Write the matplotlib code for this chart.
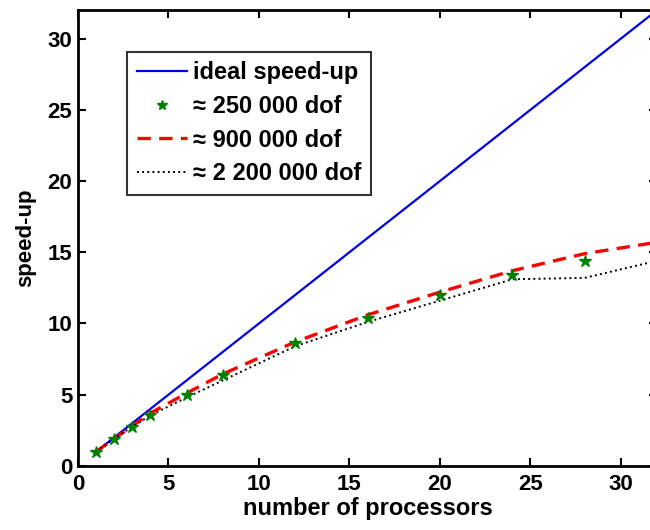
import matplotlib
matplotlib.use("Agg")
import matplotlib.pyplot as plt

plt.rcParams['font.family'] = ['Liberation Sans', 'DejaVu Sans']
plt.rcParams['font.weight'] = 'bold'

# ideal speed-up
procs_ideal = [1, 32]
speed_ideal = [1, 32]

# measured speed-ups
procs_250k = [1, 2, 3, 4, 6, 8, 12, 16, 20, 24, 28]
speed_250k = [1.0, 1.9, 2.75, 3.6, 5.0, 6.4, 8.6, 10.4, 12.0, 13.4, 14.4]

procs_900k = [1, 2, 3, 4, 6, 8, 12, 16, 20, 24, 28, 32]
speed_900k = [1.0, 1.9, 2.8, 3.7, 5.1, 6.45, 8.7, 10.6, 12.2, 13.7, 14.9, 15.7]

procs_2200k = [1, 2, 3, 4, 6, 8, 12, 16, 20, 24, 28, 32]
speed_2200k = [1.0, 1.9, 2.75, 3.55, 4.8, 6.0, 8.4, 10.1, 11.6, 13.1, 13.2, 14.4]

fig = plt.figure(figsize=(6.5, 5.3), dpi=100)
ax = fig.add_axes([0.12, 0.121, 0.891, 0.860])

ax.plot(procs_ideal, speed_ideal, color='#0000e6', lw=1.6, label='ideal speed-up')
ax.plot(procs_250k, speed_250k, ls='none', marker='*', ms=9, color='#008000',
        label='\u2248 250 000 dof', zorder=4)
ax.plot(procs_900k, speed_900k, color='red', ls='--', lw=2.4, dashes=(4, 2.5),
        label='\u2248 900 000 dof')
ax.plot(procs_2200k, speed_2200k, color='black', ls=':', lw=1.4,
        label='\u2248 2 200 000 dof')

ax.set_xlim(0, 32)
ax.set_ylim(0, 32)
ax.set_xticks([0, 5, 10, 15, 20, 25, 30])
ax.set_yticks([0, 5, 10, 15, 20, 25, 30])
ax.tick_params(direction='in', length=6, width=1.5, labelsize=16,
               top=True, right=True)
ax.tick_params(axis='x', pad=6)
ax.tick_params(axis='y', pad=4)
for lab in ax.get_xticklabels() + ax.get_yticklabels():
    lab.set_fontweight('bold')
for s in ax.spines.values():
    s.set_linewidth(2)

ax.set_xlabel('number of processors', fontsize=17, fontweight='bold', labelpad=1)
ax.set_ylabel('speed-up', fontsize=16, fontweight='bold', labelpad=8)

leg = ax.legend(loc='upper left', bbox_to_anchor=(0.085, 0.908), fontsize=17,
                frameon=True, fancybox=False, edgecolor='black', handlelength=2.15,
                handletextpad=0.25, borderpad=0.4, labelspacing=0.45, borderaxespad=0,
                markerscale=0.8)
leg.get_frame().set_linewidth(1.5)
for t in leg.get_texts():
    t.set_fontweight('bold')

fig.savefig('out.png', dpi=100)
